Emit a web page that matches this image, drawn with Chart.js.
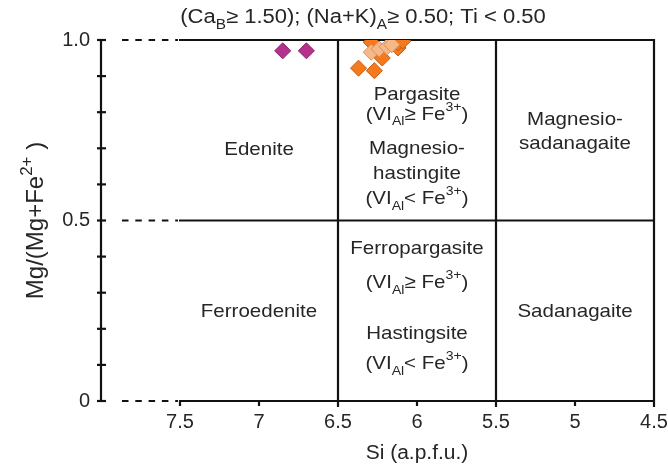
<!DOCTYPE html>
<html>
<head>
<meta charset="utf-8">
<script src="https://cdn.jsdelivr.net/npm/chart.js@4.4.1/dist/chart.umd.min.js"></script>
<style>
  html, body { margin: 0; padding: 0; background: #fff; }
  #wrap { width: 668px; height: 469px; }
</style>
</head>
<body>
<div id="wrap"><canvas id="myChart"></canvas></div>
<script>
// tick labels
const xTickValues = [7.5, 7, 6.5, 6, 5.5, 5, 4.5];
const xTickLabels = ['7.5', '7', '6.5', '6', '5.5', '5', '4.5'];
const yTickValues = [0, 0.5, 1];
const yTickLabels = ['0', '0.5', '1.0'];

// samples: Si (a.p.f.u.) and Mg/(Mg+Fe2+)
const magentaSi = [6.85, 6.70];
const magentaMg = [0.970, 0.970];
const orangeSi = [6.37, 6.27, 6.22, 6.29, 6.12, 6.12, 6.09];
const orangeMg = [0.922, 0.915, 0.950, 0.994, 0.978, 0.992, 0.997];
const paleSi = [6.29, 6.24, 6.19, 6.16];
const paleMg = [0.966, 0.975, 0.981, 0.987];

const FONT = "'Liberation Sans', Arial, Helvetica, sans-serif";
const INK = '#262626';

const toPoints = (xs, ys) => xs.map((x, i) => ({x: x, y: ys[i]}));

// rich text: parts are [text, 'n' | 'sub' | 'sup'], sx = horizontal stretch
function richText(ctx, parts, cx, cy, size, sx) {
  sx = sx || 1;
  const fontOf = k => (k === 'n' ? size : Math.round(size * 0.7)) + 'px ' + FONT;
  let total = 0;
  const widths = parts.map(([t, k]) => {
    ctx.font = fontOf(k);
    const w = ctx.measureText(t).width;
    total += w;
    return w;
  });
  ctx.save();
  ctx.translate(cx, cy);
  ctx.scale(sx, 1);
  let x = -total / 2;
  const base = size * 0.36;
  ctx.textAlign = 'left';
  ctx.textBaseline = 'alphabetic';
  parts.forEach(([t, k], i) => {
    ctx.font = fontOf(k);
    let dy = 0;
    if (k === 'sub') dy = size * 0.3;
    if (k === 'sup') dy = -size * 0.45;
    ctx.fillText(t, x, base + dy);
    x += widths[i];
  });
  ctx.restore();
}

const geAl = [['(VI', 'n'], ['Al', 'sub'], ['\u2265 Fe', 'n'], ['3+', 'sup'], [')', 'n']];
const ltAl = [['(VI', 'n'], ['Al', 'sub'], ['< Fe', 'n'], ['3+', 'sup'], [')', 'n']];

// field names, placed in data coordinates
const fieldLabels = [
  {si: 7.0, mg: 0.700, parts: [['Edenite', 'n']]},
  {si: 7.0, mg: 0.252, parts: [['Ferroedenite', 'n']]},
  {si: 6.0, mg: 0.853, parts: [['Pargasite', 'n']]},
  {si: 6.0, mg: 0.798, parts: geAl},
  {si: 6.0, mg: 0.704, parts: [['Magnesio-', 'n']]},
  {si: 6.0, mg: 0.634, parts: [['hastingite', 'n']]},
  {si: 6.0, mg: 0.565, parts: ltAl},
  {si: 6.0, mg: 0.427, parts: [['Ferropargasite', 'n']]},
  {si: 6.0, mg: 0.332, parts: geAl},
  {si: 6.0, mg: 0.191, parts: [['Hastingsite', 'n']]},
  {si: 6.0, mg: 0.108, parts: ltAl},
  {si: 5.0, mg: 0.784, parts: [['Magnesio-', 'n']]},
  {si: 5.0, mg: 0.717, parts: [['sadanagaite', 'n']]},
  {si: 5.0, mg: 0.252, parts: [['Sadanagaite', 'n']]}
];

const diagram = {
  id: 'diagram',
  beforeDatasetsDraw(chart) {
    const {ctx, scales: {x, y}} = chart;
    const xL = x.getPixelForValue(8);
    const xS = x.getPixelForValue(7.5);
    const xR = x.getPixelForValue(4.5);
    const y0 = y.getPixelForValue(0);
    const y1 = y.getPixelForValue(1);

    ctx.save();
    ctx.strokeStyle = '#121212';
    ctx.lineWidth = 2.2;
    ctx.lineCap = 'butt';
    const line = (ax, ay, bx, by) => {
      ctx.beginPath(); ctx.moveTo(ax, ay); ctx.lineTo(bx, by); ctx.stroke();
    };

    // left axis + minor ticks
    line(xL, y0 + 1, xL, y1 - 1);
    for (let i = 0; i <= 10; i++) {
      const py = y.getPixelForValue(i / 10);
      line(xL - 4, py, xL + 5, py);
    }
    // frame and field boundaries
    yTickValues.forEach(v => {
      const py = y.getPixelForValue(v);
      line(xS - 1, py, xR + 1, py);
      ctx.setLineDash([6.5, 6.8]);
      line(xL + 21, py, xS - 2, py);
      ctx.setLineDash([]);
    });
    [6.5, 5.5, 4.5].forEach(v => {
      const px = x.getPixelForValue(v);
      line(px, y1 - 1, px, y0 + 6);
    });
    [7.5, 7, 6, 5].forEach(v => {
      const px = x.getPixelForValue(v);
      line(px, y0, px, y0 + 5);
    });
    ctx.restore();

    // labels
    ctx.save();
    ctx.fillStyle = INK;
    fieldLabels.forEach(l => {
      richText(ctx, l.parts, x.getPixelForValue(l.si), y.getPixelForValue(l.mg), 19, 1.08);
    });
    richText(ctx, [['(Ca', 'n'], ['B', 'sub'], ['\u2265 1.50); (Na+K)', 'n'], ['A', 'sub'], ['\u2265 0.50; Ti < 0.50', 'n']], 363, 16, 20, 1.1);
    richText(ctx, [['Si (a.p.f.u.)', 'n']], (xS + xR) / 2, 452, 20, 1.05);
    ctx.translate(34, (y0 + y1) / 2);
    ctx.rotate(-Math.PI / 2);
    richText(ctx, [['Mg/(Mg+Fe', 'n'], ['2+', 'sup'], [' )', 'n']], 0, 0, 24);
    ctx.restore();
  }
};

const ctx = document.getElementById('myChart').getContext('2d');

// dataset 0 is drawn on top in Chart.js
const data = {
  datasets: [
    {
      label: 'Pale orange',
      data: toPoints(paleSi, paleMg),
      backgroundColor: '#f6b887',
      borderColor: '#d89160'
    },
    {
      label: 'Orange',
      data: toPoints(orangeSi, orangeMg),
      backgroundColor: '#f57a1e',
      borderColor: '#c65b12'
    },
    {
      label: 'Magenta',
      data: toPoints(magentaSi, magentaMg),
      backgroundColor: '#b5318d',
      borderColor: '#86206a'
    }
  ]
};

const near = (v, list) => list.findIndex(t => Math.abs(v - t) < 1e-6);

const config = {
  type: 'scatter',
  data: data,
  options: {
    responsive: true,
    maintainAspectRatio: false,
    animation: false,
    layout: {
      padding: {top: 40, right: 14, left: 0, bottom: 0}
    },
    elements: {
      point: {pointStyle: 'rectRot', radius: 8, borderWidth: 1}
    },
    plugins: {
      legend: {display: false},
      tooltip: {enabled: false}
    },
    scales: {
      x: {
        type: 'linear',
        reverse: true,
        min: 4.5,
        max: 8,
        border: {display: false},
        grid: {display: false, drawTicks: false},
        ticks: {
          stepSize: 0.5,
          autoSkip: false,
          maxRotation: 0,
          padding: 9,
          color: INK,
          font: {family: FONT, size: 20},
          callback: v => {
            const i = near(v, xTickValues);
            return i < 0 ? '' : xTickLabels[i];
          }
        },
        afterFit: s => { s.height = 68; s.paddingLeft = 0; s.paddingRight = 0; }
      },
      y: {
        min: 0,
        max: 1,
        border: {display: false},
        grid: {display: false, drawTicks: false},
        ticks: {
          stepSize: 0.1,
          autoSkip: false,
          padding: 11,
          color: INK,
          font: {family: FONT, size: 20},
          callback: v => {
            const i = near(v, yTickValues);
            return i < 0 ? '' : yTickLabels[i];
          }
        },
        afterFit: s => { s.width = 101; s.paddingTop = 0; s.paddingBottom = 0; }
      }
    }
  },
  plugins: [diagram]
};

const myChart = new Chart(ctx, config);
</script>
</body>
</html>
